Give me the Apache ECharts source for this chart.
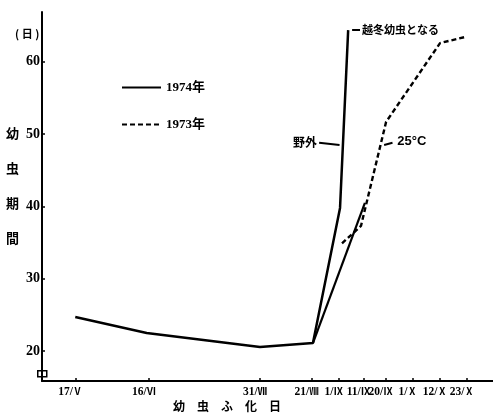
<!DOCTYPE html>
<html>
<head>
<meta charset="utf-8">
<script src="https://cdn.jsdelivr.net/npm/echarts@6/dist/echarts.min.js"></script>
<style>
html,body{margin:0;padding:0;background:#fff;}
#c{width:493px;height:416px;}
</style>
</head>
<body>
<div id="c"></div>
<script>
// x values are day-of-year (1974 calendar)
const tickDates = [137, 167, 212, 233, 244, 254, 263, 274, 285, 296];
const tickDays = ['17', '16', '31', '21', '1', '11', '20', '1', '12', '23'];
const tickMonths = ['Ⅴ', 'Ⅵ', 'Ⅶ', 'Ⅷ', 'Ⅸ', 'Ⅸ', 'Ⅸ', 'Ⅹ', 'Ⅹ', 'Ⅹ'];
const yTicks = [20, 30, 40, 50, 60];

// 1974 field (野外)
const field1974Days = [137, 166, 212, 233.5, 244.5, 247.8];
const field1974Vals = [24.7, 22.5, 20.55, 21.1, 39.8, 64.4];
// 1974 second branch (25°C)
const lab1974Days = [233.5, 254.6];
const lab1974Vals = [21.1, 40.5];
// 1973 (25°C)
const lab1973Days = [245.3, 253.0, 263.2, 285.1, 296.0];
const lab1973Vals = [34.9, 37.3, 51.7, 62.6, 63.5];

const FONT = "'Liberation Serif','Noto Sans CJK JP',serif";
const CJK = "'Noto Sans CJK JP',sans-serif";

const zip = (a, b) => a.map((d, i) => [d, b[i]]);

const chart = echarts.init(document.getElementById('c'), null, {renderer: 'canvas'});
chart.setOption({
  animation: false,
  backgroundColor: '#fff',
  grid: {left: 42, right: 0, top: 12, bottom: 35, outerBoundsMode: 'none'},
  legend: {
    orient: 'vertical', left: 116, top: 76,
    itemWidth: 39, itemHeight: 14, itemGap: 24,
    itemStyle: {opacity: 0},
    data: ['1974年', '1973年'],
    textStyle: {color: '#000', fontWeight: 'bold', fontSize: 13, fontFamily: FONT}
  },
  xAxis: {
    type: 'value', min: 123.5, max: 306.6,
    splitLine: {show: false},
    axisLine: {lineStyle: {color: '#000', width: 2}},
    axisTick: {inside: true, length: 3, customValues: tickDates, lineStyle: {color: '#000', width: 1.5}},
    axisLabel: {
      customValues: tickDates, margin: 5, color: '#000',
      padding: [0, 10, 0, 0],
      formatter: v => {
        const i = tickDates.indexOf(v);
        return i < 0 ? '' : '{d|' + tickDays[i] + '/}{r|' + tickMonths[i] + '}';
      },
      rich: {
        d: {fontFamily: FONT, fontWeight: 'bold', fontSize: 11.5, color: '#000'},
        r: {fontFamily: CJK, fontWeight: 'bold', fontSize: 9.5, color: '#000'}
      }
    }
  },
  yAxis: {
    type: 'value', min: 15.85, max: 66.9,
    splitLine: {show: false},
    axisLine: {show: true, lineStyle: {color: '#000', width: 2}},
    axisTick: {show: true, inside: true, length: 3, customValues: yTicks, lineStyle: {color: '#000', width: 1.5}},
    axisLabel: {customValues: yTicks, margin: 2, color: '#000', fontWeight: 'bold', fontSize: 14, fontFamily: FONT}
  },
  series: [
    {
      name: '1974年', type: 'line', symbol: 'none',
      lineStyle: {color: '#000', width: 2.5},
      itemStyle: {color: '#000'},
      data: zip(field1974Days, field1974Vals),
      markLine: {
        silent: true, symbol: ['none', 'none'],
        lineStyle: {color: '#000', width: 2, type: 'solid'},
        data: [
          [{coord: [236.0, 48.8], label: {show: true, position: 'start', formatter: '野外', distance: 2,
             color: '#000', fontWeight: 'bold', fontSize: 12, fontFamily: CJK}},
           {coord: [244.3, 48.5]}],
          [{coord: [249.4, 64.4]},
           {coord: [252.6, 64.4], label: {show: true, position: 'end', formatter: '越冬幼虫となる', distance: 2,
             color: '#000', fontWeight: 'bold', fontSize: 11, fontFamily: CJK}}]
        ]
      }
    },
    {
      name: '1974年', type: 'line', symbol: 'none',
      lineStyle: {color: '#000', width: 2.2},
      itemStyle: {color: '#000'},
      data: zip(lab1974Days, lab1974Vals)
    },
    {
      name: '1973年', type: 'line', symbol: 'none',
      lineStyle: {color: '#000', width: 2.4, type: [5, 3]},
      itemStyle: {color: '#000'},
      data: zip(lab1973Days, lab1973Vals),
      markLine: {
        silent: true, symbol: ['none', 'none'],
        lineStyle: {color: '#000', width: 2, type: 'solid'},
        data: [
          [{coord: [265.8, 48.8], label: {show: true, position: 'start', formatter: '25°C', distance: 5,
             color: '#000', fontWeight: 'bold', fontSize: 13, fontFamily: "'Liberation Sans','Noto Sans CJK JP',sans-serif"}},
           {coord: [262.4, 48.5]}]
        ]
      }
    }
  ],
  graphic: [
    {type: 'text', left: 15, top: 28, style: {text: '( 日 )', fill: '#000', font: 'bold 11px ' + CJK}},
    {type: 'text', left: 6, top: 116, style: {text: '幼\n虫\n期\n間', fill: '#000', font: 'bold 13px ' + CJK, lineHeight: 35}},
    {type: 'text', left: 173, top: 400, style: {text: '幼　虫　ふ　化　日', fill: '#000', font: 'bold 12px ' + CJK}},
    {type: 'rect', left: 37, top: 370, shape: {width: 9, height: 6}, style: {fill: '#fff', stroke: '#000', lineWidth: 1.5}}
  ]
});
</script>
</body>
</html>
